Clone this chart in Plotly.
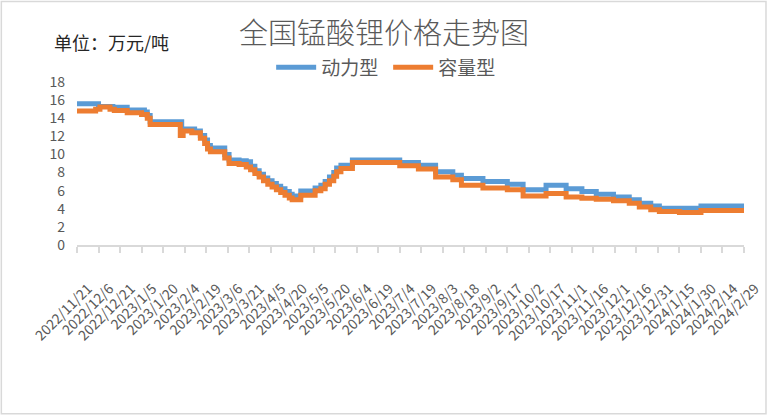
import plotly.graph_objects as go
import pandas as pd

# ---- data ----
power_dates = ["2022-11-21", "2022-12-06", "2022-12-16", "2022-12-26", "2023-01-07", "2023-01-09",
               "2023-01-11", "2023-02-02", "2023-02-11", "2023-02-15", "2023-02-18", "2023-02-20",
               "2023-02-22", "2023-03-04", "2023-03-07", "2023-03-14", "2023-03-19", "2023-03-22",
               "2023-03-25", "2023-03-28", "2023-03-31", "2023-04-03", "2023-04-06", "2023-04-09",
               "2023-04-12", "2023-04-15", "2023-04-18", "2023-04-20", "2023-04-26", "2023-05-06",
               "2023-05-10", "2023-05-13", "2023-05-16", "2023-05-19", "2023-05-21", "2023-05-24",
               "2023-06-01", "2023-07-04", "2023-07-17", "2023-07-29", "2023-08-10", "2023-08-16",
               "2023-08-31", "2023-09-17", "2023-09-28", "2023-10-14", "2023-10-28", "2023-11-08",
               "2023-11-18", "2023-11-30", "2023-12-11", "2023-12-18", "2023-12-26", "2024-01-01",
               "2024-01-30", "2024-02-28", "2024-02-29"]
power_values = [15.6, 15.3, 15.2, 14.9, 14.7, 14.3,
                13.6, 12.8, 12.6, 12.1, 11.6, 11.0,
                10.7, 10.0, 9.4, 9.3, 9.2, 8.7,
                8.2, 7.8, 7.4, 7.1, 6.8, 6.5,
                6.2, 5.9, 5.6, 5.4, 5.95, 6.3,
                6.6, 7.0, 7.5, 8.0, 8.5, 8.8,
                9.4, 9.1, 8.8, 8.1, 7.7, 7.35,
                7.0, 6.7, 6.1, 6.6, 6.2, 5.9,
                5.6, 5.3, 5.0, 4.6, 4.3, 4.05,
                4.3, 4.3, 4.5]

capacity_dates = ["2022-11-21", "2022-12-04", "2022-12-07", "2022-12-14", "2022-12-17", "2022-12-26",
                  "2023-01-05", "2023-01-09", "2023-01-11", "2023-02-01", "2023-02-03", "2023-02-09",
                  "2023-02-15", "2023-02-18", "2023-02-20", "2023-02-22", "2023-03-04", "2023-03-07",
                  "2023-03-14", "2023-03-19", "2023-03-22", "2023-03-25", "2023-03-28", "2023-03-31",
                  "2023-04-03", "2023-04-06", "2023-04-09", "2023-04-12", "2023-04-15", "2023-04-18",
                  "2023-04-20", "2023-04-26", "2023-05-06", "2023-05-10", "2023-05-13", "2023-05-16",
                  "2023-05-19", "2023-05-21", "2023-05-24", "2023-06-01", "2023-07-04", "2023-07-17",
                  "2023-07-29", "2023-08-10", "2023-08-16", "2023-08-31", "2023-09-17", "2023-09-28",
                  "2023-10-14", "2023-10-28", "2023-11-08", "2023-11-18", "2023-11-30", "2023-12-11",
                  "2023-12-18", "2023-12-26", "2024-01-01", "2024-01-15", "2024-01-30", "2024-02-29"]
capacity_values = [14.8, 15.0, 15.25, 15.0, 14.85, 14.6,
                   14.4, 14.0, 13.3, 12.1, 12.6, 12.4,
                   11.8, 11.2, 10.6, 10.3, 9.6, 9.0,
                   8.9, 8.6, 8.3, 7.9, 7.5, 7.1,
                   6.7, 6.4, 6.1, 5.8, 5.5, 5.2,
                   5.0, 5.5, 6.0, 6.2, 6.7, 7.1,
                   7.6, 8.1, 8.45, 9.1, 8.75, 8.4,
                   7.5, 7.2, 6.6, 6.3, 6.1, 5.4,
                   5.7, 5.3, 5.15, 5.05, 4.9, 4.6,
                   4.2, 3.9, 3.7, 3.6, 3.8, 3.8]

tick_labels = ["2022/11/21", "2022/12/6", "2022/12/21", "2023/1/5", "2023/1/20", "2023/2/4",
               "2023/2/19", "2023/3/6", "2023/3/21", "2023/4/5", "2023/4/20", "2023/5/5",
               "2023/5/20", "2023/6/4", "2023/6/19", "2023/7/4", "2023/7/19", "2023/8/3",
               "2023/8/18", "2023/9/2", "2023/9/17", "2023/10/2", "2023/10/17", "2023/11/1",
               "2023/11/16", "2023/12/1", "2023/12/16", "2023/12/31", "2024/1/15", "2024/1/30",
               "2024/2/14", "2024/2/29"]
y_ticks = [0, 2, 4, 6, 8, 10, 12, 14, 16, 18]

series_names = ["动力型", "容量型"]
title_text = "全国锰酸锂价格走势图"
unit_text = "单位：万元/吨"

# ---- figure ----
W, H = 770, 416
L, R = 76.7, 744.0
T, B = 81.7, 245.0
pw, ph = R - L, B - T

def px_x(px):
    return (px - L) / pw

def px_y(py):
    return (B - py) / ph

tick_vals = pd.to_datetime(tick_labels, format="%Y/%m/%d")
grey = "#595959"
font_fam = "Noto Sans CJK SC, Open Sans, sans-serif"

fig = go.Figure()
fig.add_trace(go.Scatter(x=pd.to_datetime(power_dates), y=power_values, name=series_names[0],
                         mode="lines", line=dict(color="#5B9BD5", width=5, shape="hv")))
fig.add_trace(go.Scatter(x=pd.to_datetime(capacity_dates), y=capacity_values, name=series_names[1],
                         mode="lines", line=dict(color="#ED7D31", width=5, shape="hv")))

fig.update_layout(
    width=W, height=H,
    margin=dict(l=L, r=W - R, t=T, b=H - B, autoexpand=False),
    paper_bgcolor="white", plot_bgcolor="white",
    font=dict(family=font_fam, color=grey),
    title=dict(text=title_text, x=384 / W, xanchor="center", y=1 - 34 / H, yanchor="middle",
               font=dict(size=29, color=grey, family=font_fam, weight=300)),
    legend=dict(orientation="h", x=px_x(388), xanchor="center", y=px_y(67), yanchor="middle",
                font=dict(size=19, color=grey), itemwidth=40, bgcolor="rgba(0,0,0,0)",
                entrywidth=62, entrywidthmode="pixels", tracegroupgap=0),
    xaxis=dict(range=[tick_vals[0], tick_vals[-1]], tickmode="array", tickvals=tick_vals,
               ticktext=tick_labels, tickangle=-45, tickfont=dict(size=14, color=grey),
               ticklabelstandoff=22, ticklabelshift=11,
               showgrid=False, zeroline=False, showline=True, linecolor="#D9D9D9", linewidth=2,
               ticks="outside", ticklen=6, tickcolor="#D9D9D9", tickwidth=1.5),
    yaxis=dict(range=[0, 18], tickmode="array", tickvals=y_ticks, tickfont=dict(size=14, color=grey),
               ticklabelstandoff=11,
               showgrid=False, zeroline=False, showline=False, ticks=""),
    showlegend=True,
)

fig.add_annotation(text=unit_text, xref="paper", yref="paper", x=px_x(52), y=px_y(42),
                   xanchor="left", yanchor="middle", showarrow=False,
                   font=dict(size=18, color="#262626", family=font_fam))

fig.add_shape(type="rect", xref="paper", yref="paper",
              x0=px_x(1), x1=px_x(766), y0=px_y(414), y1=px_y(1),
              line=dict(color="#D9D9D9", width=1.5), fillcolor="rgba(0,0,0,0)", layer="below")

fig.write_html("out.html", config={"displayModeBar": False},
               post_script="document.body.style.margin='0px';")
